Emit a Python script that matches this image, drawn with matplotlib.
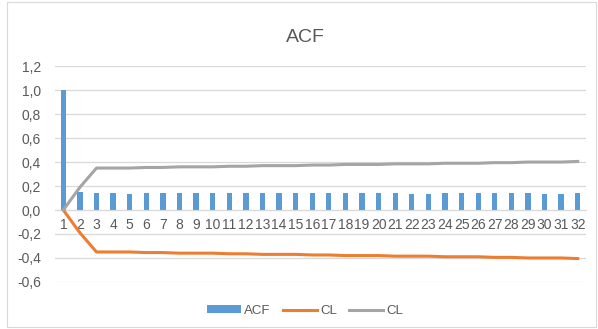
import matplotlib.pyplot as plt
from matplotlib.ticker import FuncFormatter

plt.rcParams['font.family'] = ['Liberation Sans', 'DejaVu Sans']

lags = list(range(1, 33))
acf = [1.0, 0.15, 0.14, 0.14, 0.13, 0.14, 0.14, 0.14, 0.14, 0.14, 0.14, 0.14, 0.14, 0.14, 0.14, 0.14,
       0.14, 0.14, 0.14, 0.14, 0.14, 0.13, 0.13, 0.14, 0.14, 0.14, 0.14, 0.14, 0.14, 0.13, 0.13, 0.14]
cl_up = [0.0, 0.19, 0.35, 0.35, 0.35, 0.355, 0.355, 0.36, 0.36, 0.36, 0.365, 0.365, 0.37, 0.37, 0.37, 0.375,
         0.375, 0.38, 0.38, 0.38, 0.385, 0.385, 0.385, 0.39, 0.39, 0.39, 0.395, 0.395, 0.40, 0.40, 0.40, 0.405]
cl_low = [-v for v in cl_up]

blue = '#5B9BD5'
orange = '#ED7D31'
grey = '#A5A5A5'
txt = '#595959'

fig = plt.figure(figsize=(5.98, 3.29), dpi=100)
ax = fig.add_axes([0.092, 0.143, 0.888, 0.656])

bars = ax.bar(lags, acf, width=0.32, color=blue, label='ACF', zorder=2)
l1, = ax.plot(lags, cl_low, color=orange, lw=2.2, label='CL', zorder=3)
l2, = ax.plot(lags, cl_up, color=grey, lw=2.2, label='CL', zorder=3)

ax.set_xlim(0.5, 32.5)
ax.set_ylim(-0.6, 1.2)
ax.set_yticks([-0.6, -0.4, -0.2, 0.0, 0.2, 0.4, 0.6, 0.8, 1.0, 1.2])
ax.yaxis.set_major_formatter(FuncFormatter(lambda v, p: ('%.1f' % v).replace('.', ',')))
ax.set_xticks(lags)
ax.set_xticklabels([str(l) for l in lags])
ax.grid(axis='y', color='#D9D9D9', lw=0.9, zorder=0)
for s in ['top', 'right', 'left']:
    ax.spines[s].set_visible(False)
ax.spines['bottom'].set_position(('data', 0))
ax.spines['bottom'].set_color('#D9D9D9')
ax.tick_params(length=0, labelsize=10, colors=txt, pad=6)
ax.tick_params(axis='y', pad=10)

fig.text(0.51, 0.885, 'ACF', ha='center', va='center', fontsize=14, color=txt)
fig.legend([bars, l1, l2], ['ACF', 'CL', 'CL'], loc='center', bbox_to_anchor=(0.51, 0.055), ncol=3,
           frameon=False, fontsize=9.5, handlelength=2.6, handleheight=0.5, columnspacing=0.9,
           handletextpad=0.25, labelcolor=txt)

border = plt.Rectangle((0.012, 0.005), 0.985, 0.99, transform=fig.transFigure,
                       fill=False, ec='#D9D9D9', lw=0.8)
fig.patches.append(border)

fig.savefig('out.png', dpi=100)
